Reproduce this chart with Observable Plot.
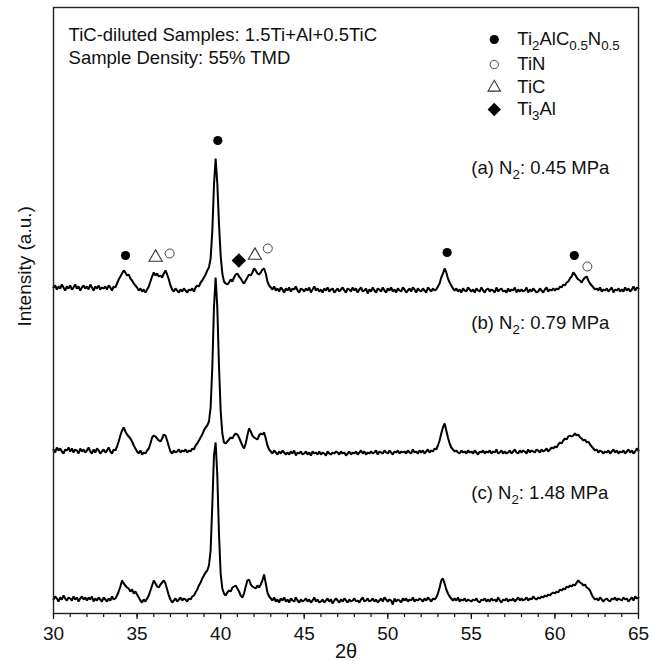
<!DOCTYPE html>
<html><head><meta charset="utf-8">
<script src="https://cdn.jsdelivr.net/npm/d3@7"></script>
<script src="https://cdn.jsdelivr.net/npm/@observablehq/plot@0.6"></script>
<style>
html,body{margin:0;padding:0;background:#fff;}
#chart{width:660px;height:670px;}
</style></head><body><div id="chart"></div>
<script>
// 2θ sampling grid: 30.0 → 65.0 in steps of 0.1°
const thetaStart = 30, thetaStep = 0.1;

// (a) N2 0.45 MPa — intensities, one row per degree
const seriesA = [
16,18,14,17,15,19,16,13,17,15,
18,14,16,19,15,17,13,16,18,15,
17,14,19,16,13,17,15,18,14,16,
15,17,14,18,16,13,17,16,20,24,
27,30,33,31,28,29,25,23,20,18,
16,13,15,12,14,11,14,17,22,27,
31,28,30,27,28,26,30,33,29,24,
18,14,12,15,13,11,14,12,15,13,
11,14,13,15,12,16,18,17,21,23,
26,29,33,36,45,72,118,145,120,80,
48,30,22,20,19,21,24,22,26,29,
30,27,25,22,20,23,26,29,28,31,
35,33,30,29,31,34,35,30,22,18,
16,14,17,13,15,12,16,14,11,15,
13,16,12,15,14,17,13,11,15,14,
12,15,13,16,11,14,17,13,15,12,
14,11,15,13,16,12,14,15,11,13,
15,12,14,16,13,11,15,14,12,16,
13,15,11,14,16,12,13,15,10,14,
12,16,13,11,15,14,12,16,13,11,
15,13,16,12,14,11,15,13,12,16,
14,11,13,15,12,16,14,11,15,13,
12,15,13,11,16,14,12,15,13,14,
17,20,26,30,35,31,25,21,18,15,
13,15,12,14,11,15,13,12,16,14,
12,14,11,15,13,12,16,13,11,14,
15,12,14,13,11,16,12,14,15,12,
13,11,15,12,14,13,16,11,14,12,
14,12,13,16,11,14,12,15,13,11,
12,15,13,11,14,16,12,14,13,15,
13,15,14,17,16,19,18,21,22,25,
27,31,29,26,24,23,21,24,26,27,
23,20,18,16,14,15,13,16,12,14,
13,15,12,14,16,11,14,13,15,12,
14,12,16,13,15,12,14,17,13,16,
15];

// (b) N2 0.79 MPa
const seriesB = [
16,13,18,15,17,14,12,16,15,18,
14,17,13,16,15,12,17,14,16,13,
15,18,14,12,16,13,17,15,12,14,
16,13,15,18,14,12,16,15,19,24,
30,35,38,34,31,29,27,24,20,17,
14,12,15,11,13,12,15,17,22,28,
30,29,27,25,24,27,31,30,25,19,
14,12,15,13,14,16,13,15,14,16,
13,15,14,17,16,20,22,25,28,31,
35,38,40,44,58,98,158,188,158,100,
55,32,23,22,24,26,28,27,30,32,
31,28,24,20,17,22,30,37,34,30,
28,27,26,30,32,31,33,27,20,16,
14,12,15,13,11,14,12,15,13,11,
13,11,14,12,15,10,13,12,14,11,
12,14,11,13,10,14,12,13,11,14,
11,13,12,10,14,12,11,13,12,14,
13,11,14,12,13,10,12,14,11,13,
12,14,11,13,15,12,14,11,13,12,
14,12,13,15,11,14,13,12,15,13,
12,15,13,11,14,13,15,12,14,13,
14,12,15,13,12,16,13,14,12,15,
13,15,12,14,16,13,15,14,17,16,
20,25,32,38,42,35,28,22,18,16,
14,15,13,12,15,13,14,12,15,13,
14,12,15,13,11,14,13,15,12,14,
13,15,12,14,13,16,12,13,15,12,
14,12,13,15,12,14,16,13,12,15,
13,15,14,12,16,13,15,14,13,16,
15,13,16,14,15,17,14,16,18,17,
19,18,21,23,22,25,27,26,29,30,
29,30,32,30,31,28,27,25,26,23,
24,21,19,17,15,16,13,15,14,12,
14,13,15,12,14,16,13,15,12,14,
13,15,12,14,16,13,15,12,14,17,
15];

// (c) N2 1.48 MPa
const seriesC = [
14,17,15,12,16,14,18,15,13,16,
15,13,17,14,16,12,15,17,14,16,
13,16,14,17,12,15,13,16,14,12,
16,14,12,15,13,17,14,15,18,22,
27,33,30,28,26,25,22,24,20,22,
19,16,13,11,14,12,15,18,23,28,
33,30,27,26,29,31,33,30,24,18,
14,11,13,15,12,14,16,13,15,14,
12,15,14,17,18,21,24,28,31,35,
38,41,43,48,63,108,158,171,138,80,
40,25,20,18,21,23,22,26,27,28,
25,22,18,16,20,27,33,34,29,27,
26,25,28,26,29,33,39,30,21,17,
15,13,16,12,14,11,15,13,16,12,
14,11,15,13,12,16,13,11,14,12,
13,15,12,14,11,13,16,12,14,11,
12,14,11,13,15,12,14,10,13,15,
13,11,14,12,15,13,11,14,12,13,
15,12,13,11,14,16,12,13,15,12,
13,15,12,14,11,13,15,12,16,14,
12,14,13,9,15,12,14,13,11,15,
13,15,12,14,13,16,12,14,13,15,
14,12,15,13,16,14,12,15,14,16,
20,26,33,35,30,24,20,17,15,13,
15,13,16,12,14,13,15,12,14,13,
12,14,13,15,12,11,14,13,15,12,
14,12,15,13,14,12,16,13,11,14,
13,15,12,14,13,15,12,14,16,13,
15,13,14,16,13,15,14,17,15,14,
16,15,17,16,18,17,19,18,20,21,
20,22,21,24,23,25,24,27,26,28,
27,29,28,31,33,31,30,28,29,26,
25,23,19,16,14,15,13,16,14,12,
14,15,13,12,15,14,16,13,15,14,
13,16,14,15,12,14,16,13,17,15,
16];

const seriesNames = ["a", "b", "c"];
const seriesOffsets = [310, 148, 0];   // vertical stacking offsets (a.u.)

// phase markers on trace (a)
const markerTheta = [34.31, 36.11, 36.95, 39.83, 41.09, 42.05, 42.82, 53.55, 61.16, 61.94];
const markerLevel = [358, 356, 360, 473, 353, 358, 365, 361, 358, 347];
const markerPhase = ["Ti2AlC0.5N0.5","TiC","TiN","Ti2AlC0.5N0.5","Ti3Al","TiC","TiN","Ti2AlC0.5N0.5","Ti2AlC0.5N0.5","TiN"];

// legend
const legendPhase = ["Ti2AlC0.5N0.5", "TiN", "TiC", "Ti3Al"];
const legendLabel = ["Ti{2}AlC{0.5}N{0.5}", "TiN", "TiC", "Ti{3}Al"];
const legendLevel = [574, 549, 526, 504];
const legendSymbolTheta = 56.37, legendTextTheta = 57.75;

// notes & panel labels
const noteLines = ["TiC-diluted Samples: 1.5Ti+Al+0.5TiC", "Sample Density: 55% TMD"];
const noteLevel = [578, 555];
const noteTheta = 30.9;
const panelLabels = ["(a) N{2}: 0.45 MPa", "(b) N{2}: 0.79 MPa", "(c) N{2}: 1.48 MPa"];
const panelLevel = [445, 290, 120];
const panelTheta = 55.0;

const majorTicks = [30, 35, 40, 45, 50, 55, 60, 65];
const minorTicks = d3.range(30, 66, 1);

// build tables
const traces = [];
[seriesA, seriesB, seriesC].forEach((vals, k) => {
  vals.forEach((v, i) => traces.push({theta: +(thetaStart + i * thetaStep).toFixed(2), y: v + seriesOffsets[k], s: seriesNames[k]}));
});
const markers = markerTheta.map((t, i) => ({theta: t, y: markerLevel[i], phase: markerPhase[i]}));
const legend = legendPhase.map((p, i) => ({phase: p, label: legendLabel[i], y: legendLevel[i], theta: legendSymbolTheta}));
const font = "'Liberation Sans', Arial, sans-serif";

const symbolMarks = (data, big) => [
  Plot.dot(data.filter(d => d.phase === "Ti2AlC0.5N0.5"), {x: "theta", y: "y", r: 4.6, fill: "#000", stroke: "none"}),
  Plot.dot(data.filter(d => d.phase === "TiN"), {x: "theta", y: "y", r: big ? 4.5 : 4.2, fill: "#fff", stroke: "#333", strokeWidth: 0.9}),
  Plot.dot(data.filter(d => d.phase === "Ti3Al"), {x: "theta", y: "y", r: big ? 6.5 : 6, symbol: "diamond2", fill: "#000", stroke: "none"}),
  Plot.dot(data.filter(d => d.phase === "TiC"), {x: "theta", y: "y", r: big ? 4.9 : 4.6, symbol: "triangle", fill: "none", stroke: "#333", strokeWidth: 1.1})
];

const plot = Plot.plot({
  width: 660, height: 670,
  marginLeft: 53, marginRight: 22, marginTop: 7, marginBottom: 57,
  style: {fontFamily: font, background: "#fff", color: "#111"},
  x: {domain: [30, 65]},
  y: {domain: [0, 606], axis: null},
  marks: [
    Plot.line(traces, {x: "theta", y: "y", z: "s", stroke: "#000", strokeWidth: 2, strokeLinejoin: "miter"}),
    Plot.axisX({ticks: minorTicks, tickSize: 4, tickFormat: () => "", strokeWidth: 1.2, label: null}),
    Plot.axisX({ticks: majorTicks, tickSize: 6, tickPadding: 7, fontSize: 19, strokeWidth: 1.2, label: null}),
    Plot.frame({stroke: "#222", strokeWidth: 1.4}),
    ...symbolMarks(markers, true),
    ...symbolMarks(legend, false),
    // legend labels
    Plot.text(legend, {x: () => legendTextTheta, y: "y", text: "label", textAnchor: "start", fontSize: 18.5, fill: "#111"}),
    // notes
    Plot.text(noteLines, {x: () => noteTheta, y: (d, i) => noteLevel[i], text: d => d, textAnchor: "start", fontSize: 18.5, fill: "#111"}),
    Plot.text(panelLabels, {x: () => panelTheta, y: (d, i) => panelLevel[i], text: d => d, textAnchor: "start", fontSize: 18.5, fill: "#111"}),
    // axis titles
    Plot.text(["Intensity (a.u.)"], {frameAnchor: "left", text: d => d, rotate: -90, dx: -29, dy: 16, fontSize: 19, fill: "#111"}),
    Plot.text(["2θ"], {frameAnchor: "bottom", text: d => d, dy: 44, fontSize: 20, fill: "#111"})
  ]
});

// subscripts: {...} → lowered, smaller tspans
d3.select(plot).selectAll("text").each(function () {
  const s = this.textContent;
  if (!s.includes("{")) return;
  const parts = s.split(/(\{[^}]*\})/).filter(p => p.length);
  const el = d3.select(this);
  el.text(null);
  let sub = false;
  for (const p of parts) {
    if (p.startsWith("{")) {
      el.append("tspan").attr("dy", sub ? 0 : 5).attr("font-size", "0.72em").text(p.slice(1, -1));
      sub = true;
    } else {
      el.append("tspan").attr("dy", sub ? -5 : 0).text(p);
      sub = false;
    }
  }
});

document.getElementById("chart").appendChild(plot);
</script>
</body></html>
